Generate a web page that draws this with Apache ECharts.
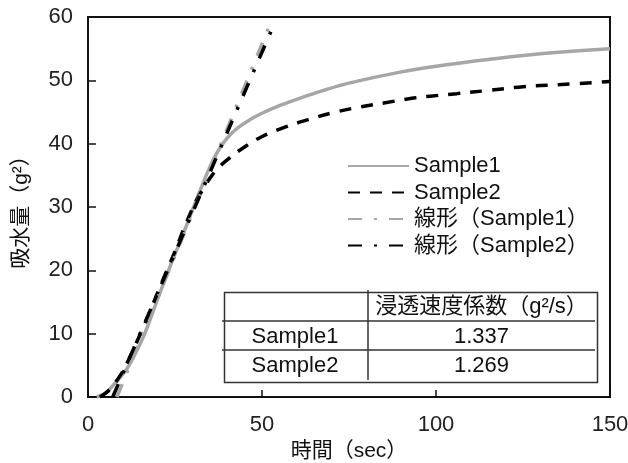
<!DOCTYPE html>
<html>
<head>
<meta charset="utf-8">
<script src="https://cdn.jsdelivr.net/npm/echarts@6/dist/echarts.min.js"></script>
<style>
  html, body { margin: 0; padding: 0; background: #fff; }
  #chart { width: 628px; height: 463px; }
</style>
</head>
<body>
<div id="chart"></div>
<script>
// 读图得到的数据
const s1Time = [2.5, 5, 7.3, 10, 12, 15.9, 19.7, 23.5, 27.4, 32.2, 35, 37, 39, 41, 43.5, 46.6, 50, 55, 61, 67, 75.3, 89.7, 101, 115, 130, 150];
const s1Value = [0, 0.6, 1.9, 3.6, 5.2, 9.5, 15, 20.5, 25.8, 32.6, 36.3, 38.5, 40.2, 41.5, 42.7, 43.8, 44.8, 46.0, 47.2, 48.3, 49.6, 51.3, 52.3, 53.3, 54.2, 55];

const s2Time = [3.4, 5.5, 7.3, 9.5, 11.6, 14.9, 17.8, 21, 25, 28, 31.2, 33.5, 35.1, 37.5, 39.9, 43.7, 49.9, 56.6, 63.3, 70.5, 78.2, 85.8, 93.5, 98.3, 106, 115, 125, 135, 150];
const s2Value = [0, 0.8, 1.9, 3.6, 5.8, 9.8, 13.5, 17.8, 23, 27.2, 31.1, 33.2, 34.6, 36.2, 37.4, 39, 41.1, 42.6, 43.8, 44.9, 45.8, 46.5, 47.2, 47.5, 47.9, 48.4, 49, 49.3, 49.8];

// 线形拟合（两端点）
const lin1Time = [8.3, 52.3];
const lin1Value = [0, 58.8];
const lin2Time = [7.1, 52.8];
const lin2Value = [0, 58.0];

const seriesNames = ['Sample1', 'Sample2', '線形（Sample1）', '線形（Sample2）'];

const xTicks = { min: 0, max: 150, interval: 50 };
const yTicks = { min: 0, max: 60, interval: 10 };

// 表格内容
const tableHeader = ['', '浸透速度係数（g²/s）'];
const tableRows = [['Sample1', '1.337'], ['Sample2', '1.269']];

const zip = (xs, ys) => xs.map((x, i) => [x, ys[i]]);

const FONT = '"Liberation Sans", "Noto Sans CJK JP", sans-serif';
const FS = 22;

// 表格用 graphic 画
function buildTable() {
    const left = 222, top = 290;
    const colW = [146, 227];
    const rowH = [31, 29, 30];
    const totalW = colW[0] + colW[1];
    const totalH = rowH[0] + rowH[1] + rowH[2];
    const els = [];
    const line = { stroke: '#333', lineWidth: 1.5 };
    els.push({ type: 'rect', left: left, top: top, shape: { width: totalW, height: totalH }, style: { stroke: '#333', lineWidth: 1.5, fill: null } });
    let y = top;
    for (let r = 0; r < rowH.length - 1; r++) {
        y += rowH[r];
        els.push({ type: 'line', shape: { x1: left, y1: y, x2: left + totalW, y2: y }, style: line });
    }
    els.push({ type: 'line', shape: { x1: left + colW[0], y1: top, x2: left + colW[0], y2: top + totalH }, style: line });
    const rows = [tableHeader].concat(tableRows);
    let cy = top;
    rows.forEach((row, r) => {
        let cx = left;
        row.forEach((cell, c) => {
            els.push({
                type: 'text',
                x: cx + colW[c] / 2,
                y: cy + rowH[r] / 2 + 1,
                style: { text: cell, fontSize: FS, fontFamily: FONT, fill: '#111', align: 'center', verticalAlign: 'middle' }
            });
            cx += colW[c];
        });
        cy += rowH[r];
    });
    return els;
}

const chart = echarts.init(document.getElementById('chart'));
chart.setOption({
    backgroundColor: '#fff',
    animation: false,
    textStyle: { fontFamily: FONT },
    grid: {
        left: 88, right: 18, top: 17, bottom: 66,
        outerBoundsMode: 'none',
        show: true, borderColor: '#111', borderWidth: 2
    },
    legend: {
        data: seriesNames,
        orient: 'vertical',
        left: 347,
        top: 155,
        padding: 0,
        itemWidth: 61,
        itemHeight: 22,
        itemGap: 4.5,
        itemStyle: { opacity: 0 },
        textStyle: { fontSize: FS, color: '#111', fontFamily: FONT }
    },
    xAxis: {
        type: 'value',
        min: xTicks.min, max: xTicks.max, interval: xTicks.interval,
        name: '時間（sec）',
        nameLocation: 'middle',
        nameGap: 40,
        nameTextStyle: { fontSize: 21, color: '#111', fontFamily: FONT },
        axisLine: { lineStyle: { color: '#111', width: 2 } },
        axisTick: { inside: true, length: 7, lineStyle: { color: '#111', width: 1.5 } },
        axisLabel: { fontSize: FS, color: '#222', margin: 17 },
        splitLine: { show: false }
    },
    yAxis: {
        type: 'value',
        min: yTicks.min, max: yTicks.max, interval: yTicks.interval,
        name: '吸水量（g²）',
        nameLocation: 'middle',
        nameGap: 56,
        nameRotate: 90,
        nameTextStyle: { fontSize: 21, color: '#111', fontFamily: FONT },
        axisLine: { lineStyle: { color: '#111', width: 2 } },
        axisTick: { inside: true, length: 8, lineStyle: { color: '#111', width: 1.5 } },
        axisLabel: { fontSize: FS, color: '#222', margin: 15 },
        splitLine: { show: false }
    },
    series: [
        {
            name: seriesNames[0], type: 'line', data: zip(s1Time, s1Value),
            smooth: 0.4, symbol: 'none',
            lineStyle: { color: '#a6a6a6', width: 3.5 },
            itemStyle: { color: '#a6a6a6' }, z: 2
        },
        {
            name: seriesNames[1], type: 'line', data: zip(s2Time, s2Value),
            smooth: 0.4, symbol: 'none',
            lineStyle: { color: '#000', width: 3.5, type: [12, 10] },
            itemStyle: { color: '#000' }, z: 3
        },
        {
            name: seriesNames[2], type: 'line', data: zip(lin1Time, lin1Value),
            symbol: 'none',
            lineStyle: { color: '#a6a6a6', width: 3.5, type: [14, 12, 3, 12] },
            itemStyle: { color: '#a6a6a6' }, z: 4
        },
        {
            name: seriesNames[3], type: 'line', data: zip(lin2Time, lin2Value),
            symbol: 'none',
            lineStyle: { color: '#000', width: 3.5, type: [14, 12, 3, 12] },
            itemStyle: { color: '#000' }, z: 5
        }
    ],
    graphic: buildTable()
});
</script>
</body>
</html>
